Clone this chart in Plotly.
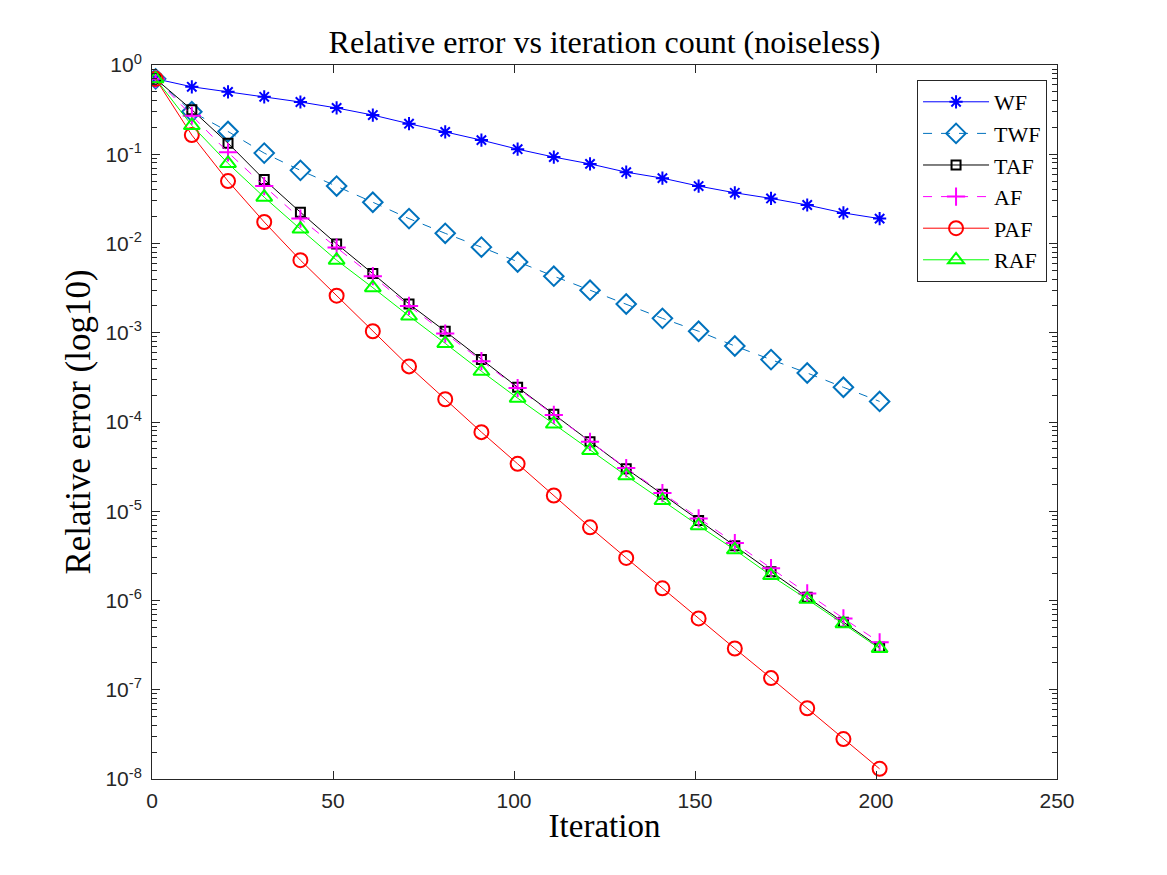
import plotly.graph_objects as go

iters = [1, 11, 21, 31, 41, 51, 61, 71, 81, 91, 101, 111, 121, 131, 141, 151, 161, 171, 181, 191, 201]

wf = [0.70, 0.57, 0.50, 0.44, 0.385, 0.33, 0.275, 0.22, 0.178, 0.144, 0.114, 0.093, 0.078, 0.063,
      0.054, 0.044, 0.037, 0.032, 0.027, 0.022, 0.019]
twf = [0.70, 0.30, 0.18, 0.103, 0.066, 0.044, 0.029, 0.019, 0.013, 0.0091, 0.0062, 0.0043, 0.0030,
       0.0021, 0.00145, 0.00104, 0.00071, 0.00050, 0.000354, 0.000245, 0.00017]
taf = [0.70, 0.315, 0.133, 0.052, 0.0224, 0.0099, 0.0046, 0.0021, 0.00104, 0.00050, 0.000245,
       0.000122, 6.0e-5, 3.0e-5, 1.55e-5, 7.9e-6, 4.1e-6, 2.1e-6, 1.09e-6, 5.7e-7, 3.0e-7]
af = [0.70, 0.27, 0.105, 0.044, 0.019, 0.0090, 0.0043, 0.0020, 0.00098, 0.00048, 0.00024,
      0.00012, 6.0e-5, 3.05e-5, 1.6e-5, 8.3e-6, 4.4e-6, 2.3e-6, 1.2e-6, 6.3e-7, 3.4e-7]
paf = [0.70, 0.164, 0.050, 0.0174, 0.0065, 0.0026, 0.00104, 0.00042, 0.00018, 7.7e-5, 3.4e-5,
       1.5e-5, 6.6e-6, 3.0e-6, 1.37e-6, 6.3e-7, 2.9e-7, 1.35e-7, 6.2e-8, 2.8e-8, 1.3e-8]
raf = [0.70, 0.21, 0.079, 0.033, 0.0145, 0.0065, 0.0032, 0.00154, 0.00076, 0.00037, 0.000185,
       9.5e-5, 4.8e-5, 2.5e-5, 1.32e-5, 6.9e-6, 3.7e-6, 1.9e-6, 1.03e-6, 5.5e-7, 2.9e-7]

names = ["WF", "TWF", "TAF", "AF", "PAF", "RAF"]
x_ticks = [0, 50, 100, 150, 200, 250]
y_exps = [-8, -7, -6, -5, -4, -3, -2, -1, 0]

series = [wf, twf, taf, af, paf, raf]
styles = [
    dict(color="#0000FF", symbol="asterisk-open", size=11, dash="solid"),
    dict(color="#0072BD", symbol="diamond-open", size=15, dash="dash"),
    dict(color="#000000", symbol="square-open", size=9, dash="solid"),
    dict(color="#FF00FF", symbol="cross-thin-open", size=13, dash="dash"),
    dict(color="#FF0000", symbol="circle-open", size=14, dash="solid"),
    dict(color="#00FF00", symbol="triangle-up-open", size=14, dash="solid"),
]

fig = go.Figure()
for name, ys, st in zip(names, series, styles):
    fig.add_trace(go.Scatter(
        x=iters, y=ys, name=name, mode="lines+markers",
        line=dict(color=st["color"], width=1, dash=st["dash"]),
        marker=dict(symbol=st["symbol"], size=st["size"], color=st["color"],
                    line=dict(color=st["color"], width=2)),
    ))

minor_vals = [m * 10.0 ** e for e in y_exps[:-1] for m in range(2, 10)]

axis_color = "#262626"
fig.update_layout(
    width=1167, height=875,
    paper_bgcolor="white", plot_bgcolor="white",
    margin=dict(l=152, r=110, t=65, b=96),
    title=dict(text="Relative error vs iteration count (noiseless)",
               font=dict(family="Liberation Serif", size=32, color="#000000"),
               x=0.5, xanchor="center", xref="paper", y=0.952, yanchor="middle"),
    showlegend=True,
    legend=dict(x=0.989, y=0.979, xanchor="right", yanchor="top",
                bgcolor="white", bordercolor="#262626", borderwidth=1,
                font=dict(family="Liberation Serif", size=22, color="#000000"),
                itemwidth=66, tracegroupgap=0),
    xaxis=dict(range=[0, 250], tickvals=x_ticks, ticks="inside", ticklen=8,
               showgrid=False, zeroline=False, showline=True, linecolor=axis_color,
               linewidth=1, mirror="ticks", tickcolor=axis_color, ticklabelstandoff=3,
               tickfont=dict(family="Liberation Sans", size=21, color="#262626"),
               title=dict(text="Iteration", font=dict(family="Liberation Serif", size=33, color="#000000"),
                          standoff=2)),
    yaxis=dict(type="log", range=[-8, 0],
               tickvals=[10.0 ** e for e in y_exps],
               ticktext=["10<sup>%d</sup>" % e for e in y_exps],
               ticks="inside", ticklen=8,
               minor=dict(tickvals=minor_vals, ticks="inside", ticklen=5, tickcolor=axis_color,
                          showgrid=False),
               showgrid=False, zeroline=False, showline=True, linecolor=axis_color,
               linewidth=1, mirror="ticks", tickcolor=axis_color, ticklabelstandoff=5,
               tickfont=dict(family="Liberation Sans", size=21, color="#262626"),
               title=dict(text="Relative error (log10)",
                          font=dict(family="Liberation Serif", size=35, color="#000000"),
                          standoff=4)),
)

fig.write_html("out.html")
